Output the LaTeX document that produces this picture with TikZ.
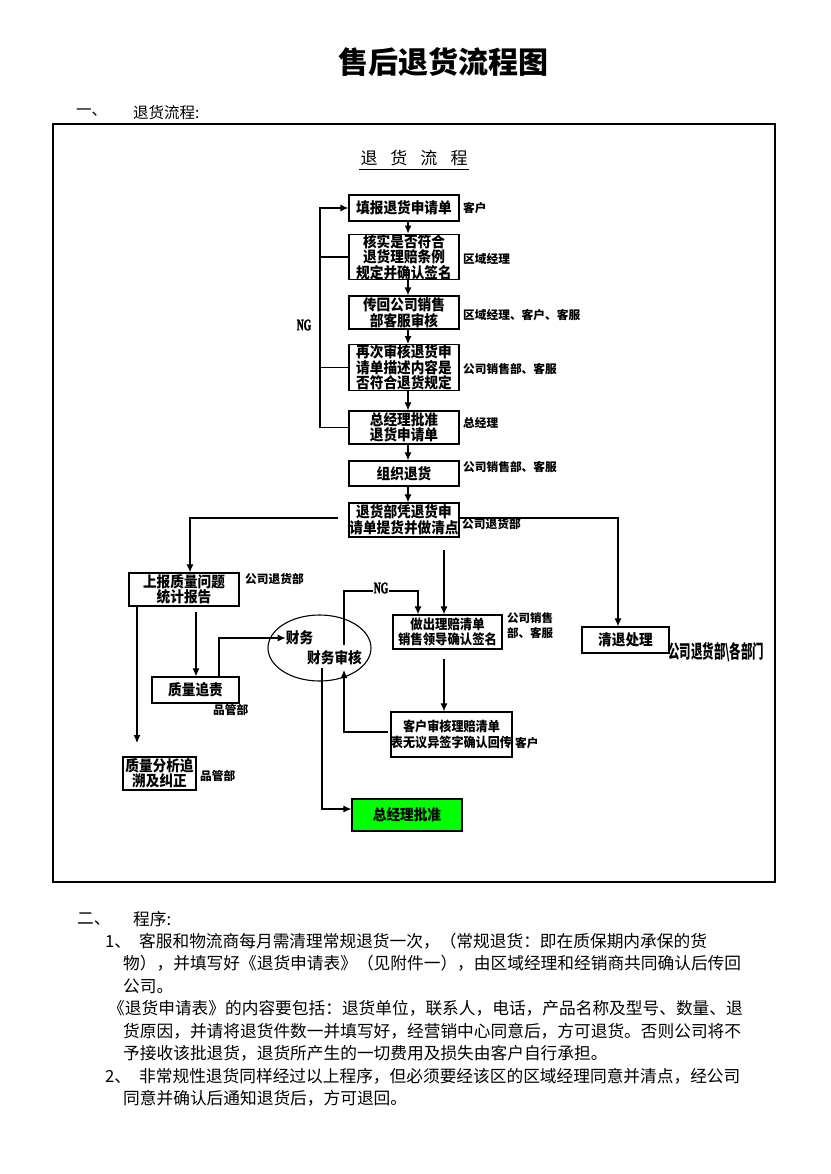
\documentclass[tikz,border=0pt]{standalone}
\usepackage{fontspec}
\setmainfont{Noto Sans CJK SC}
\newfontfamily\cjkc[FakeStretch=0.91]{Noto Sans CJK SC}
\newfontfamily\cjkt[FakeStretch=0.62]{Noto Sans CJK SC}
\newfontfamily\ngfont[FakeStretch=0.6,FakeBold=2]{Liberation Serif}
\usetikzlibrary{arrows.meta,shapes.geometric}
\definecolor{mygreen}{RGB}{0,255,0}
\tikzset{
  box/.style={draw, line width=1.3pt, inner sep=0pt, align=center,
    font=\cjkc\bfseries\fontsize{15}{13.5}\selectfont},
  lbl/.style={anchor=west, inner sep=0pt, font=\bfseries\fontsize{11.7}{14}\selectfont},
  txt/.style={anchor=west, inner sep=0pt, font=\fontsize{16.7}{20}\selectfont},
  ln/.style={line width=1.1pt},
  arr/.style={line width=1.1pt, -{Latex[length=8pt,width=7pt]}},
  ng/.style={inner sep=1pt, font=\ngfont\bfseries\fontsize{16}{16}\selectfont}
}
\begin{document}
\begin{tikzpicture}[x=1pt,y=-1pt]
\fill[white] (0,0) rectangle (830,1174);
\useasboundingbox (0,0) rectangle (830,1174);

% title and heading
\node[inner sep=0pt, font=\bfseries\fontsize{30}{32}\selectfont] (title) at (443,62) {售后退货流程图};
\node[anchor=west, inner sep=0pt, font=\fontsize{15.5}{18}\selectfont] (h1a) at (76,113) {一、};
\node[anchor=west, inner sep=0pt, font=\fontsize{15.5}{18}\selectfont] (h1b) at (133,113) {退货流程:};

% frame
\draw[line width=2pt] (53,124) rectangle (775,882);

% chart title
\node[inner sep=1pt, font=\fontsize{17}{18}\selectfont] (ct) at (414,158) {退\hspace{13pt}货\hspace{13pt}流\hspace{13pt}程};
\draw[line width=1pt] ([yshift=-2pt]ct.south west) -- ([yshift=-2pt]ct.south east);

% main column
\node[box, minimum width=110pt, minimum height=26pt] (b1) at (404,208) {填报退货申请单};
\node[box, minimum width=110pt, minimum height=44pt] (b2) at (404,257) {核实是否符合\\退货理赔条例\\规定并确认签名};
\node[box, minimum width=110pt, minimum height=33pt] (b3) at (404,312.5) {传回公司销售\\部客服审核};
\node[box, minimum width=110pt, minimum height=43pt] (b4) at (404,367.5) {再次审核退货申\\请单描述内容是\\否符合退货规定};
\node[box, minimum width=110pt, minimum height=33pt] (b5) at (404,427.5) {总经理批准\\退货申请单};
\node[box, minimum width=110pt, minimum height=25pt] (b6) at (404,473.5) {组织退货};
\node[box, minimum width=110pt, minimum height=34pt] (b7) at (404,520) {退货部凭退货申\\请单提货并做清点};

\node[lbl] (l1) at (463,208) {客户};
\node[lbl] (l2) at (463,259) {区域经理};
\node[lbl] (l3) at (463,315) {区域经理、客户、客服};
\node[lbl] (l4) at (463,369) {公司销售部、客服};
\node[lbl] (l5) at (463,423) {总经理};
\node[lbl] (l6) at (463,467) {公司销售部、客服};
\node[lbl] (l7) at (462,524) {公司退货部};

\foreach \a/\b in {b1/b2,b2/b3,b3/b4,b4/b5,b5/b6,b6/b7}
  \draw[arr] ([xshift=4pt]\a.south) -- ([xshift=4pt]\b.north);

% NG loop (upper)
\coordinate (nx) at (320,427);
\draw[arr] (b5.west) -- (b5.west -| nx) -- (b1.west -| nx) -- (b1.west);
\draw[ln] (b2.west) -- (b2.west -| nx);
\draw[ln] (b4.west) -- (b4.west -| nx);
\node[ng] (ng1) at (304,325) {NG};

% lower boxes
\node[box, minimum width=110pt, minimum height=33pt] (q1) at (184,589.5) {上报质量问题\\统计报告};
\node[box, minimum width=87pt, minimum height=26pt] (q2) at (195.5,690) {质量追责};
\node[box, minimum width=73pt, minimum height=33pt] (q3) at (159.5,773.5) {质量分析追\\溯及纠正};
\node[draw, ellipse, line width=1.1pt, minimum width=103pt, minimum height=66pt, inner sep=0pt] (e) at (319.5,648) {};
\node[inner sep=0pt, font=\cjkc\bfseries\fontsize{15}{15}\selectfont] (e1) at (299.5,638) {财务};
\node[inner sep=0pt, font=\cjkc\bfseries\fontsize{15}{15}\selectfont] (e2) at (334.5,658) {财务审核};
\node[box, minimum width=109pt, minimum height=34pt, font=\cjkc\bfseries\fontsize{13.6}{15}\selectfont] (c1) at (447.5,632) {做出理赔清单\\销售领导确认签名};
\node[box, minimum width=117pt, minimum height=45pt, font=\cjkc\bfseries\fontsize{13.3}{15.5}\selectfont] (c2) at (451.5,734.5) {客户审核理赔清单\\表无议异签字确认回传};
\node[box, fill=mygreen, minimum width=110pt, minimum height=32pt] (g) at (407,815) {总经理批准};
\node[box, minimum width=87pt, minimum height=26pt] (r) at (625.5,640) {清退处理};

\node[lbl] (m1) at (245,579) {公司退货部};
\node[lbl] (m2) at (213,710) {品管部};
\node[lbl] (m3) at (200,776) {品管部};
\node[lbl, align=left, font=\bfseries\fontsize{11.5}{15}\selectfont] (m4) at (507,626) {公司销售\\部、客服};
\node[lbl] (m5) at (515,743) {客户};
\node[anchor=west, inner sep=0pt, font=\cjkt\bfseries\fontsize{18.5}{20}\selectfont] (m6) at (668,652) {公司退货部\textbackslash 各部门};

% connectors from b7
\coordinate (bl) at (338,518);
\draw[arr] (bl) -| ([xshift=6pt]q1.north);
\draw[arr] ([yshift=2pt]b7.east) -| ([xshift=-7.5pt]r.north);
\coordinate (bm) at (444,550);
\draw[arr] (bm) -- (bm |- c1.north);

% left branch
\coordinate (qa) at (137,743);
\draw[arr] (qa |- q1.south) -- (qa);
\coordinate (qb) at (196,612);
\draw[arr] (qb) -- (qb |- q2.north);
\draw[arr] ([xshift=23.5pt]q2.north) |- (e1.west);

% finance NG loop
\coordinate (ngA) at (344,645);
\coordinate (ngT) at (418,591);
\draw[arr] (ngA) |- (ngT) -- (ngT |- c1.north);
\node[ng, fill=white] (ng2) at (381,588) {NG};

\coordinate (cc) at (444,659);
\draw[arr] (cc) -- (cc |- c2.north);
\coordinate (cd) at (388,732);
\coordinate (ce) at (344,670);
\draw[arr] (cd) -| (ce);
\coordinate (ef) at (322,668);
\draw[arr] (ef) |- ([yshift=6pt]g.west);

% procedure text
\node[txt] (p0a) at (77,919) {二、};
\node[txt] (p0b) at (133,919) {程序:};
\node[txt] (p1) at (105,941) {1、\hspace{8pt}客服和物流商每月需清理常规退货一次，（常规退货：即在质保期内承保的货};
\node[txt] (p2) at (123,963) {物），并填写好《退货申请表》（见附件一），由区域经理和经销商共同确认后传回};
\node[txt] (p3) at (123,986) {公司。};
\node[txt] (p4) at (108,1008) {《退货申请表》的内容要包括：退货单位，联系人，电话，产品名称及型号、数量、退};
\node[txt] (p5) at (123,1031) {货原因，并请将退货件数一并填写好，经营销中心同意后，方可退货。否则公司将不};
\node[txt] (p6) at (123,1053) {予接收该批退货，退货所产生的一切费用及损失由客户自行承担。};
\node[txt] (p7) at (105,1076) {2、\hspace{8pt}非常规性退货同样经过以上程序，但必须要经该区的区域经理同意并清点，经公司};
\node[txt] (p8) at (123,1098) {同意并确认后通知退货后，方可退回。};
\end{tikzpicture}
\end{document}
